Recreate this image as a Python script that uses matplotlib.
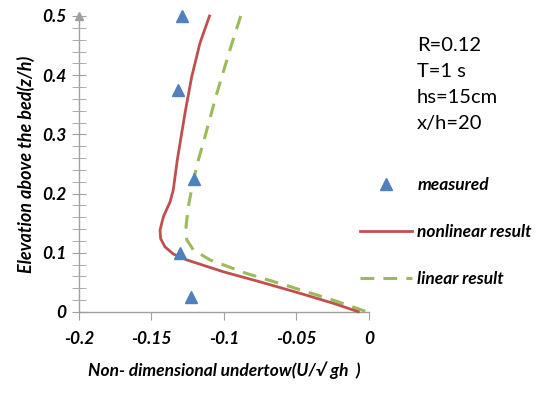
import matplotlib
matplotlib.use("Agg")
import matplotlib.pyplot as plt
from matplotlib.ticker import MultipleLocator

plt.rcParams['font.family'] = ['Lato', 'DejaVu Sans']

# measured undertow (triangles)
meas_u = [-0.129, -0.132, -0.121, -0.130, -0.123]
meas_z = [0.5, 0.375, 0.225, 0.1, 0.025]

# nonlinear result
nl_u = [-0.110, -0.1166, -0.1223, -0.1269, -0.1322, -0.1350, -0.1372, -0.1418,
        -0.1441, -0.1437, -0.1407, -0.1350, -0.1257, -0.1005, -0.0752, -0.0476,
        -0.0246, -0.0074]
nl_z = [0.5, 0.454, 0.397, 0.336, 0.257, 0.206, 0.186, 0.161,
        0.1385, 0.124, 0.110, 0.098, 0.088, 0.068, 0.051, 0.0316,
        0.0147, 0.0005]

# linear result
li_u = [-0.0885, -0.0959, -0.105, -0.1138, -0.1177, -0.1216, -0.1246, -0.1262,
        -0.1257, -0.1212, -0.1097, -0.0843, -0.0545, -0.0246, -0.0016]
li_z = [0.5, 0.443, 0.369, 0.29, 0.257, 0.217, 0.178, 0.144,
        0.122, 0.105, 0.088, 0.065, 0.043, 0.020, 0.0005]

xticks = [-0.2, -0.15, -0.1, -0.05, 0]
xtick_labels = ['-0.2', '-0.15', '-0.1', '-0.05', '0']
yticks = [0, 0.1, 0.2, 0.3, 0.4, 0.5]
ytick_labels = ['0', '0.1', '0.2', '0.3', '0.4', '0.5']
notes = ['R=0.12', 'T=1 s', 'hs=15cm', 'x/h=20']

fig = plt.figure(figsize=(5.43, 3.95), dpi=100)
ax = fig.add_axes([79/543, 1-312/395, 290/543, 296/395])

ax.plot(meas_u, meas_z, '^', color='#4F81BD', ms=9, ls='none', label='measured', clip_on=False, zorder=4)
ax.plot(nl_u, nl_z, '-', color='#C0504D', lw=2.0, label='nonlinear result', clip_on=False, zorder=3)
ax.plot(li_u, li_z, '--', color='#9BBB59', lw=2.2, dashes=(4.5, 3), label='linear result', clip_on=False, zorder=2)

ax.set_xlim(-0.2, 0)
ax.set_ylim(0, 0.5)
ax.set_xticks(xticks)
ax.set_xticklabels(xtick_labels)
ax.set_yticks(yticks)
ax.set_yticklabels(ytick_labels)
ax.yaxis.set_minor_locator(MultipleLocator(0.02))

for s in ['top', 'right']:
    ax.spines[s].set_visible(False)
for s in ['left', 'bottom']:
    ax.spines[s].set_color('#A0A0A0')
    ax.spines[s].set_linewidth(1.0)
ax.tick_params(axis='x', direction='out', length=6, color='#A0A0A0', pad=8)
ax.tick_params(axis='y', which='both', direction='inout', length=10, color='#A0A0A0', pad=4)
for lab in ax.get_xticklabels() + ax.get_yticklabels():
    lab.set_fontweight('bold')
    lab.set_fontstyle('italic')
    lab.set_fontsize(12.5)

# arrow head at top of y axis
ax.plot(0, 1, marker='^', color='#A0A0A0', ms=6, transform=ax.transAxes, clip_on=False)

ax.set_xlabel('Non- dimensional undertow(U/√ gh  )', fontsize=12.5, fontweight='bold',
              fontstyle='italic', labelpad=10)
ax.set_ylabel('Elevation above the bed(z/h)', fontsize=13, fontweight='bold',
              fontstyle='italic', labelpad=5)

fig.text(417/543, 1-37/395, '\n'.join(notes), fontsize=14.5, va='top', ha='left',
         linespacing=1.65)

leg = ax.legend(loc='center left', bbox_to_anchor=(360/543, 1-232/395),
                bbox_transform=fig.transFigure, frameon=False, borderpad=0,
                borderaxespad=0, handlelength=3.0, handletextpad=0.3,
                labelspacing=1.8, prop={'weight': 'bold', 'style': 'italic', 'size': 12.5})

fig.savefig('out.png', dpi=100)
